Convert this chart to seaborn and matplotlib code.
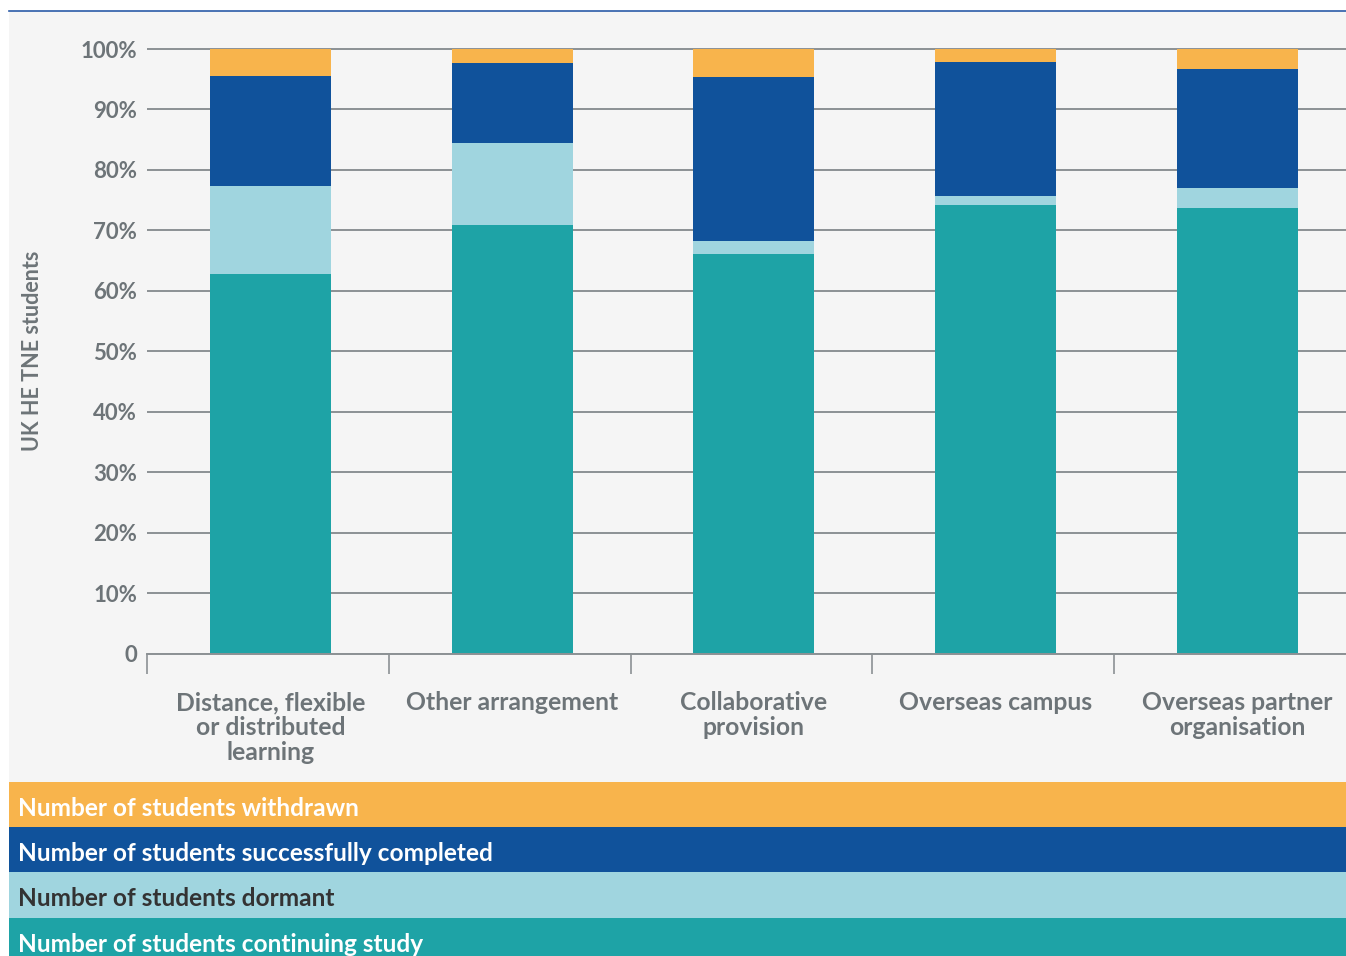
import numpy as np
import pandas as pd
import matplotlib
matplotlib.use("Agg")
import matplotlib.pyplot as plt
from matplotlib.patches import Rectangle
from matplotlib.lines import Line2D
import seaborn as sns

# Provision types
categories = [
    "Distance, flexible\nor distributed\nlearning",
    "Other arrangement",
    "Collaborative\nprovision",
    "Overseas campus",
    "Overseas partner\norganisation",
]

# Share of UK HE TNE students (%) by status
continuing = [62.8, 70.9, 66.1, 74.2, 73.7]
dormant = [14.5, 13.6, 2.1, 1.5, 3.3]
completed = [18.2, 13.2, 27.2, 22.1, 19.7]
withdrawn = [4.5, 2.3, 4.6, 2.2, 3.3]

series_names = [
    "Number of students withdrawn",
    "Number of students successfully completed",
    "Number of students dormant",
    "Number of students continuing study",
]
series_colors = ["#F8B44C", "#10529B", "#A0D5DF", "#1EA3A6"]
legend_text_colors = ["white", "white", "#333333", "white"]

y_ticks = [0, 10, 20, 30, 40, 50, 60, 70, 80, 90, 100]
y_tick_labels = ["0", "10%", "20%", "30%", "40%", "50%", "60%", "70%", "80%", "90%", "100%"]

GREY = "#6D7478"
GRID = "#8C9194"
PANEL = "#F5F5F5"

plt.rcParams["font.family"] = ["Lato", "DejaVu Sans"]

W, H = 1346, 956
fig = plt.figure(figsize=(W / 100, H / 100), dpi=100, facecolor="white")

def fx(px):
    return px / W

def fy(py):
    return 1 - py / H

# light panel behind the chart and the blue rule on top
fig.patches.append(Rectangle((fx(9), fy(782)), fx(1346) - fx(9), fy(11) - fy(782),
                             transform=fig.transFigure, facecolor=PANEL, edgecolor="none", zorder=-5))
fig.lines.append(Line2D([fx(9), 1], [fy(11), fy(11)], transform=fig.transFigure,
                        color="#2B5BA8", lw=1.2, zorder=-4))

# axes geometry: one category per 242.25 px, 6.047 px per percentage point
px_per_cat = 242.25
px_per_pct = 6.047
y0_px = 653.7
ymax = 102
ax_left = 147
ax_w = 5 * px_per_cat
ax_top_px = y0_px - ymax * px_per_pct
ax = fig.add_axes([fx(ax_left), fy(y0_px), ax_w / W, (y0_px - ax_top_px) / H])
ax.set_facecolor(PANEL)
ax.patch.set_alpha(0)

df = pd.DataFrame({
    "category": categories,
    "continuing": continuing,
    "dormant": dormant,
    "completed": completed,
    "withdrawn": withdrawn,
})
stack = np.cumsum(np.array([continuing, dormant, completed, withdrawn]), axis=0)
layers = [stack[3], stack[2], stack[1], stack[0]]  # tallest first so shorter segments sit on top

for vals, col in zip(layers, series_colors):
    sns.barplot(x=df["category"], y=vals, color=col, width=0.5, saturation=1,
                edgecolor="none", linewidth=0, ax=ax, zorder=3)

ax.set_xlim(-0.5, 4.5)
ax.set_ylim(0, ymax)
ax.set_yticks(y_ticks)
ax.set_yticklabels(y_tick_labels)
ax.yaxis.grid(True, color=GRID, lw=1.4, zorder=1)
ax.xaxis.grid(False)
ax.set_axisbelow(True)
for s in ["left", "top", "right"]:
    ax.spines[s].set_visible(False)
ax.spines["bottom"].set_color(GRID)
ax.spines["bottom"].set_linewidth(1.4)
ax.spines["bottom"].set_zorder(4)

ax.tick_params(axis="y", length=0, pad=7, labelsize=16, labelcolor=GREY)
for t in ax.get_yticklabels():
    t.set_fontweight("bold")
ax.set_xticks(range(len(categories)))
ax.set_xticklabels(categories, linespacing=1.1)
ax.tick_params(axis="x", which="major", length=0, pad=27, labelsize=17.8, labelcolor=GREY)
for t in ax.get_xticklabels():
    t.set_fontweight("bold")
# separator ticks between categories
ax.set_xticks(np.arange(-0.5, 4.6, 1.0) - 0.01, minor=True)
ax.tick_params(axis="x", which="minor", length=14.5, width=1.2, color=GRID, direction="out")
ax.set_xlabel("")
ax.set_ylabel("")

fig.text(fx(33), fy(351), "UK HE TNE students", rotation=90, ha="center", va="center",
         fontsize=15.5, fontweight="bold", color=GREY)

# colour key bands beneath the chart
band_edges = [782, 827, 872, 918, 964]
for i, (name, col, tcol) in enumerate(zip(series_names, series_colors, legend_text_colors)):
    top, bot = band_edges[i], band_edges[i + 1]
    fig.patches.append(Rectangle((fx(9), fy(bot)), fx(1346) - fx(9), fy(top) - fy(bot),
                                 transform=fig.transFigure, facecolor=col, edgecolor="none", zorder=-5))
    fig.text(fx(18), fy(top + 26.5), name, ha="left", va="center", fontsize=17.6,
             fontweight="bold", color=tcol)

fig.savefig("out.png", dpi=100, facecolor="white")
